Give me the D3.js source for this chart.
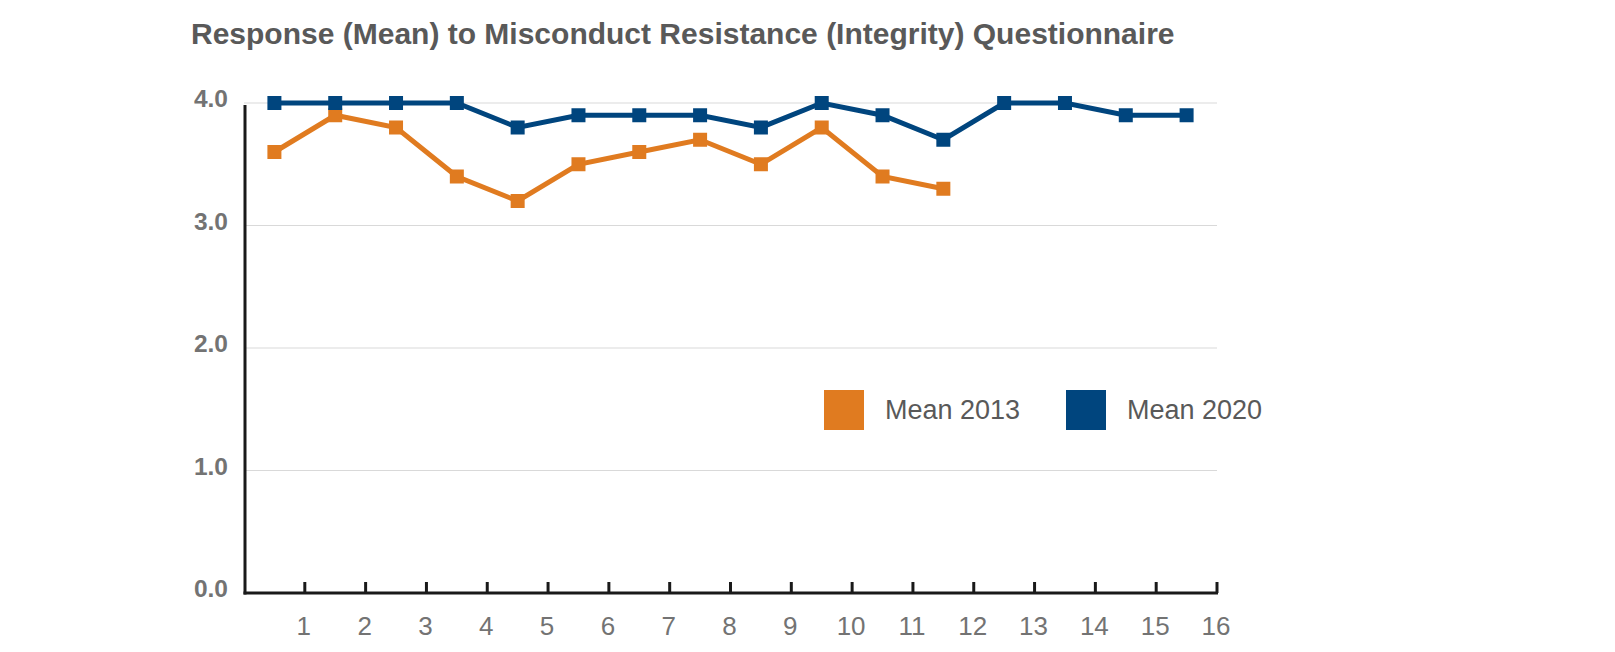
<!DOCTYPE html>
<html><head><meta charset="utf-8">
<script src="https://cdn.jsdelivr.net/npm/d3@7"></script>
<style>body{margin:0;background:#fff;}svg{display:block;font-family:"Liberation Sans",Arial,sans-serif;}</style>
</head><body>
<svg id="chart" width="1615" height="652"></svg>
<script>
const title = "Response (Mean) to Misconduct Resistance (Integrity) Questionnaire";
const categories = ["1","2","3","4","5","6","7","8","9","10","11","12","13","14","15","16"];
const mean2013 = [3.6,3.9,3.8,3.4,3.2,3.5,3.6,3.7,3.5,3.8,3.4,3.3];
const mean2020 = [4.0,4.0,4.0,4.0,3.8,3.9,3.9,3.9,3.8,4.0,3.9,3.7,4.0,4.0,3.9,3.9];
const yTicks = [0,1,2,3,4];
const seriesNames = ["Mean 2013","Mean 2020"];
const colors = ["#E07B20","#00457E"];

(function(){
const svg = d3.select("#chart");
const pL = 244, pR = 1217, pT = 103, pB = 593;
const x = d3.scaleBand().domain(categories).range([pL,pR]).padding(0);
const y = d3.scaleLinear().domain([0,4]).range([pB,pT]);

svg.append("text").attr("x",191).attr("y",44).attr("fill","#595959")
  .attr("font-size",30).attr("font-weight","bold").text(title);

// gridlines
svg.append("g").selectAll("line").data(yTicks.filter(d=>d>0)).join("line")
  .attr("x1",pL).attr("x2",pR).attr("y1",d=>y(d)).attr("y2",d=>y(d))
  .attr("stroke","#d9d9d9").attr("stroke-width",1.2);

// y labels
svg.append("g").selectAll("text").data(yTicks).join("text")
  .attr("x",228).attr("y",d=>y(d)+4).attr("text-anchor","end")
  .attr("fill","#737373").attr("font-size",24.5).attr("font-weight","bold")
  .text(d=>d3.format(".1f")(d));

// axes lines
svg.append("line").attr("x1",pL+1).attr("x2",pL+1).attr("y1",y(4)+2).attr("y2",pB+1.5)
  .attr("stroke","#1a1a1a").attr("stroke-width",3);
svg.append("line").attr("x1",pL-0.5).attr("x2",pR+1).attr("y1",pB).attr("y2",pB)
  .attr("stroke","#1a1a1a").attr("stroke-width",3);
svg.append("g").selectAll("line").data(categories).join("line")
  .attr("x1",d=>x(d)+x.bandwidth()).attr("x2",d=>x(d)+x.bandwidth())
  .attr("y1",pB).attr("y2",pB-11)
  .attr("stroke","#1a1a1a").attr("stroke-width",3);
svg.append("g").selectAll("text").data(categories).join("text")
  .attr("x",d=>x(d)+x.bandwidth()-1).attr("y",635).attr("text-anchor","middle")
  .attr("fill","#737373").attr("font-size",26).text(d=>d);

// series
const series = [mean2013, mean2020];
const line = d3.line().x((d,i)=>x(categories[i])+x.bandwidth()/2).y(d=>y(d));
series.forEach((vals,si)=>{
  const g = svg.append("g");
  g.append("path").datum(vals).attr("d",line).attr("fill","none")
    .attr("stroke",colors[si]).attr("stroke-width",5).attr("stroke-linejoin","miter");
  g.selectAll("rect").data(vals).join("rect")
    .attr("x",(d,i)=>x(categories[i])+x.bandwidth()/2-7).attr("y",d=>y(d)-7)
    .attr("width",14).attr("height",14).attr("fill",colors[si]);
});

// legend
const legX = [824,1066];
seriesNames.forEach((n,i)=>{
  svg.append("rect").attr("x",legX[i]).attr("y",390).attr("width",40).attr("height",40).attr("fill",colors[i]);
  svg.append("text").attr("x",legX[i]+61).attr("y",418.5).attr("fill","#595959")
    .attr("font-size",27).text(n);
});
})();
</script>
</body></html>
